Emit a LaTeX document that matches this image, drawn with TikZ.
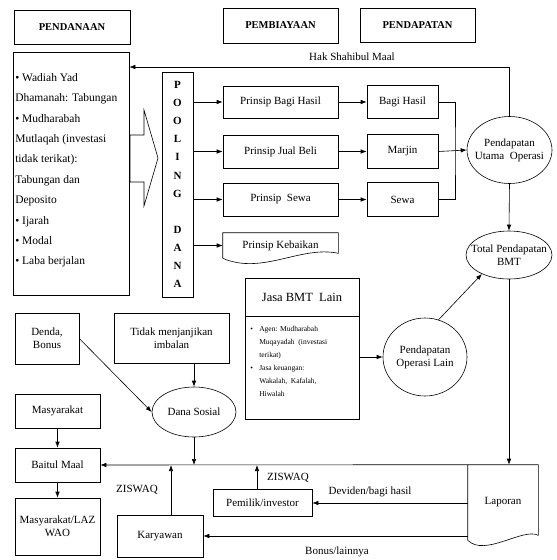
\documentclass[tikz,border=0pt]{standalone}
\usepackage{fontspec}
\setmainfont{Liberation Serif}
\usepackage{tikz}
\usetikzlibrary{positioning,arrows.meta,calc,shapes.geometric}
\newcommand{\docshape}[1]{%
  \draw (#1.south west) -- (#1.north west) -- (#1.north east) -- ($(#1.south east)+(0,-5)$)
    .. controls ($(#1.south)+(20,-13)$) and ($(#1.south)+(-18,17)$) .. (#1.south west);}

\begin{document}
\begin{tikzpicture}[
  x=1pt, y=-1pt,
  line width=0.6pt,
  font=\fontsize{11}{13}\selectfont,
  >={Latex[length=6pt,width=4.5pt]},
  box/.style={draw, align=center, inner sep=1pt},
  head/.style={box, font=\bfseries\fontsize{10.5}{12}\selectfont},
  ell/.style={draw, ellipse, align=center, inner sep=-10pt},
  doc/.style={align=center, inner sep=1pt},
  lbl/.style={inner sep=1pt},
  arr/.style={->},
]
\useasboundingbox (0,0) rectangle (557,560);

% Headings
\node[head, minimum width=116pt, minimum height=34pt] (hfund) at (72,27) {PENDANAAN};
\node[head, minimum width=115pt, minimum height=35pt] (hfin) at (280.5,25.5) {PEMBIAYAAN};
\node[head, minimum width=115pt, minimum height=34pt] (hinc) at (417.5,25) {PENDAPATAN};

% Sources of funds
\node[box, minimum width=116pt, minimum height=243pt] (funds) at (71,173.5) {};
\node[anchor=north west, align=left, inner sep=1pt, font=\fontsize{11.5}{20.4}\selectfont] (fundtxt) at (14,72)
  {\textbullet\ Wadiah Yad\\Dhamanah: Tabungan\\\textbullet\ Mudharabah\\Mutlaqah (investasi\\tidak terikat):\\Tabungan dan\\Deposito\\\textbullet\ Ijarah\\\textbullet\ Modal\\\textbullet\ Laba berjalan};
\draw (130,135) -- (144,135) -- (144,110) -- (158,158) -- (144,206) -- (144,182) -- (130,182) -- cycle;

% Pooling dana
\node[box, minimum width=31pt, minimum height=225pt, font=\bfseries\fontsize{11}{18.1}\selectfont] (pool) at (177.5,184.5)
  {P\\O\\O\\L\\I\\N\\G\\[18.1pt]D\\A\\N\\A};

% Financing principles
\node[box, minimum width=115pt, minimum height=32pt] (pbh) at (280.5,102) {Prinsip Bagi Hasil};
\node[box, minimum width=115pt, minimum height=33pt] (pjb) at (280.5,151.5) {Prinsip Jual Beli};
\node[box, minimum width=115pt, minimum height=33pt] (psw) at (280.5,199.5) {Prinsip~~Sewa};
\node[doc, minimum width=115pt, minimum height=25pt] (pkb) at (280.5,245.5) {Prinsip Kebaikan};
\docshape{pkb}

% Income types
\node[box, minimum width=71pt, minimum height=33pt] (bh) at (402.5,102) {Bagi Hasil};
\node[box, minimum width=71pt, minimum height=34pt] (mj) at (402.5,151.5) {Marjin};
\node[box, minimum width=71pt, minimum height=34pt] (sw) at (402.5,199.5) {Sewa};
\coordinate (brk) at (455,151.5);

\node[ell, minimum width=85pt, minimum height=67pt] (puo) at (509.5,150) {Pendapatan\\Utama~~Operasi};
\node[ell, minimum width=86pt, minimum height=48pt] (tot) at (509,255) {Total Pendapatan\\BMT};
\coordinate (hakr) at (509.5,67);

% Other services
\node[box, minimum width=114pt, minimum height=38pt, font=\fontsize{12.5}{14}\selectfont] (jasat) at (302,297) {Jasa BMT~ Lain};
\node[box, minimum width=114pt, minimum height=103pt] (jasal) at (302,367.5) {};
\node[anchor=north west, align=left, inner sep=0pt, font=\fontsize{7.5}{13}\selectfont] (jasatxt) at (250,326)
  {\makebox[9pt][l]{\textbullet}Agen: Mudharabah\\\hspace*{9pt}Muqayadah~ (investasi\\\hspace*{9pt}terikat)\\
   \makebox[9pt][l]{\textbullet}Jasa keuangan:\\\hspace*{9pt}Wakalah,~ Kafalah,\\\hspace*{9pt}Hiwalah};
\node[ell, minimum width=84pt, minimum height=78pt] (pol) at (425,357) {Pendapatan\\Operasi Lain};

% Social fund
\node[box, minimum width=64pt, minimum height=51pt] (denda) at (47,338.5) {Denda,\\Bonus};
\node[box, minimum width=115pt, minimum height=50pt] (tidak) at (171.5,338) {Tidak menjanjikan\\imbalan};
\node[ell, minimum width=84pt, minimum height=50pt] (dana) at (194,412) {Dana Sosial};

\node[box, minimum width=85pt, minimum height=34pt] (mas) at (57.5,411) {Masyarakat};
\node[box, minimum width=85pt, minimum height=34pt] (bm) at (57.5,465) {Baitul Maal};
\node[box, minimum width=85pt, minimum height=57pt] (laz) at (57.5,526.5) {Masyarakat/LAZ\\WAO};

\node[box, minimum width=86pt, minimum height=42pt] (kar) at (160,536) {Karyawan};
\node[box, minimum width=99pt, minimum height=27pt] (pem) at (262.5,503) {Pemilik/investor};
\node[doc, minimum width=70pt, minimum height=75pt] (lap) at (503,502.5) {Laporan};
\docshape{lap}

% Labels
\node[lbl] (lhak) at (352,57) {Hak Shahibul Maal};
\node[lbl] (lzis1) at (137,490) {ZISWAQ};
\node[lbl] (lzis2) at (288,478) {ZISWAQ};
\node[lbl] (ldev) at (370,492) {Deviden/bagi hasil};
\node[lbl] (lbon) at (337,552) {Bonus/lainnya};

% Edges
\draw[arr] (pool.east |- pbh.west) -- (pbh.west);
\draw[arr] (pool.east |- pjb.west) -- (pjb.west);
\draw[arr] (pool.east |- psw.west) -- (psw.west);
\draw[arr] (pool.east |- pkb.west) -- (pkb.west);
\draw[arr] (pbh.east) -- (bh.west);
\draw[arr] (pjb.east) -- (mj.west);
\draw[arr] (psw.east) -- (sw.west);
\draw (bh.east) -| (brk) |- (sw.east);
\draw[arr] (mj.east) -- (puo.west);
\draw[arr] (puo.north) -- (hakr) -- (hakr -| funds.east);
\draw[arr] (puo.south) -- (tot.north);
\draw[arr] (jasal.east |- pol.west) -- (pol.west);
\draw[arr] (pol.70) -- (tot.215);
\draw[arr] (tot.south) -- (tot.south |- lap.north);

\draw[arr] (tidak.south -| dana.north) -- (dana.north);
\draw[arr] (denda.east) -- (dana.west);
\draw[arr] (mas.south) -- (bm.north);
\draw[arr] (bm.south) -- (laz.north);
\draw[arr] (lap.north west) -- (bm.east);
\draw[arr] (dana.south) -- (dana.south |- bm.east);
\draw[arr] ([xshift=11pt]kar.north) -- ([xshift=11pt]kar.north |- bm.east);
\draw[arr] ([xshift=-5.5pt]pem.north) -- ([xshift=-5.5pt]pem.north |- bm.east);
\draw[arr] (lap.west |- pem.east) -- (pem.east);
\draw[arr] (lap.west |- kar.east) -- (kar.east);

\end{tikzpicture}
\end{document}
